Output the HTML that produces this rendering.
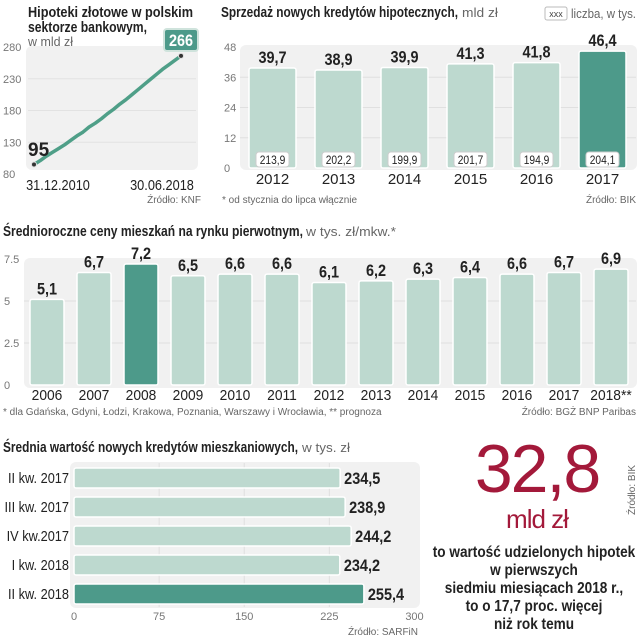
<!DOCTYPE html>
<html><head><meta charset="utf-8"><style>
body{margin:0;background:#fff;width:640px;height:640px;overflow:hidden}
svg{display:block;font-family:"Liberation Sans",sans-serif}
.t{font-weight:bold;font-size:15px;fill:#222}
.l{font-size:13px;fill:#666}
.ax{font-size:11px;fill:#777}
.v{font-weight:bold;font-size:17px;fill:#222}
.yr{font-size:15px;fill:#222}
.src{font-size:10px;fill:#666}
</style></head><body>
<svg id="s" width="640" height="640">
<!-- Chart 1 -->
<text x="28" y="17" class="t" textLength="165" lengthAdjust="spacingAndGlyphs">Hipoteki złotowe w polskim</text>
<text x="28" y="32" class="t" textLength="119" lengthAdjust="spacingAndGlyphs">sektorze bankowym,</text>
<rect x="26" y="46" width="172" height="124" rx="6" fill="#f1f1f1"/>
<text x="28" y="46" class="l" textLength="45" lengthAdjust="spacingAndGlyphs">w mld zł</text>
<g id="c1"></g>
<text x="28" y="156" style="font-weight:bold;font-size:19px;fill:#222">95</text>
<rect x="164" y="29" width="34" height="22" rx="3" fill="#4d9a8a" stroke="#cfe3dc" stroke-width="2"/>
<text x="181" y="46" text-anchor="middle" data-c="0.85" style="font-weight:bold;font-size:17px;fill:#fff">266</text>
<text x="58" y="190" text-anchor="middle" class="yr" data-c="0.85">31.12.2010</text>
<text x="162" y="190" text-anchor="middle" class="yr" data-c="0.85">30.06.2018</text>
<text x="201" y="203" text-anchor="end" class="src">Źródło: KNF</text>

<!-- Chart 2 -->
<text x="221" y="17" class="t" textLength="237" lengthAdjust="spacingAndGlyphs">Sprzedaż nowych kredytów hipotecznych,</text>
<text x="462" y="17" class="l" textLength="36" lengthAdjust="spacingAndGlyphs">mld zł</text>
<rect x="545" y="7" width="22" height="13" rx="2" fill="#fff" stroke="#bbb"/>
<text x="556" y="17" text-anchor="middle" style="font-size:9px;fill:#444">xxx</text>
<text x="571" y="18" class="l" textLength="65" lengthAdjust="spacingAndGlyphs">liczba, w tys.</text>
<rect x="240" y="45" width="397" height="125" rx="6" fill="#f1f1f1"/>
<g id="c2"></g>
<text x="222" y="203" class="src">* od stycznia do lipca włącznie</text>
<text x="636" y="203" text-anchor="end" class="src">Źródło: BIK</text>

<!-- Chart 3 -->
<text x="3" y="236" class="t" textLength="300" lengthAdjust="spacingAndGlyphs">Średnioroczne ceny mieszkań na rynku pierwotnym,</text>
<text x="306" y="236" class="l" textLength="90" lengthAdjust="spacingAndGlyphs">w tys. zł/mkw.*</text>
<rect x="24" y="258" width="613" height="130" rx="6" fill="#f1f1f1"/>
<g id="c3"></g>
<text x="3" y="415" class="src">* dla Gdańska, Gdyni, Łodzi, Krakowa, Poznania, Warszawy i Wrocławia, ** prognoza</text>
<text x="636" y="415" text-anchor="end" class="src">Źródło: BGŻ BNP Paribas</text>

<!-- Chart 4 -->
<text x="3" y="452" class="t" textLength="295" lengthAdjust="spacingAndGlyphs">Średnia wartość nowych kredytów mieszkaniowych,</text>
<text x="302" y="452" class="l" textLength="48" lengthAdjust="spacingAndGlyphs">w tys. zł</text>
<rect x="70" y="462" width="350" height="146" rx="6" fill="#f1f1f1"/>
<g id="c4"></g>
<text x="418" y="635" text-anchor="end" class="src">Źródło: SARFiN</text>

<!-- Right text -->
<text x="537" y="492" text-anchor="middle" style="font-size:68px;fill:#a3193a;letter-spacing:-2px">32,8</text>
<text x="537" y="528" text-anchor="middle" style="font-size:26px;fill:#a3193a;letter-spacing:-1px">mld zł</text>
<g style="font-size:16px;fill:#222;font-weight:bold" text-anchor="middle">
<text x="534" y="557" data-c="0.85">to wartość udzielonych hipotek</text>
<text x="534" y="575" data-c="0.85">w pierwszych</text>
<text x="534" y="593" data-c="0.85">siedmiu miesiącach 2018 r.,</text>
<text x="534" y="611" data-c="0.85">to o 17,7 proc. więcej</text>
<text x="534" y="629" data-c="0.85">niż rok temu</text>
</g>
<text transform="translate(635,515) rotate(-90)" class="src">Źródło: BIK</text>
</svg>
<script>
const lineValues=[95,101,108,114,120,126,133,140,146,154,160,167,175,182,190,197,205,213,221,229,237,245,252,259,266];
const lineTicks=[80,130,180,230,280];
const salesYears=["2012","2013","2014","2015","2016","2017"];
const salesValues=[39.7,38.9,39.9,41.3,41.8,46.4];
const salesCounts=["213,9","202,2","199,9","201,7","194,9","204,1"];
const salesLabels=["39,7","38,9","39,9","41,3","41,8","46,4"];
const salesTicks=[0,12,24,36,48];
const priceYears=["2006","2007","2008","2009","2010","2011","2012","2013","2014","2015","2016","2017","2018**"];
const priceValues=[5.1,6.7,7.2,6.5,6.6,6.6,6.1,6.2,6.3,6.4,6.6,6.7,6.9];
const priceLabels=["5,1","6,7","7,2","6,5","6,6","6,6","6,1","6,2","6,3","6,4","6,6","6,7","6,9"];
const priceTicks=[0,2.5,5,7.5];
const priceTickLabels=["0","2.5","5","7.5"];
const loanCats=["II kw. 2017","III kw. 2017","IV kw.2017","I kw. 2018","II kw. 2018"];
const loanValues=[234.5,238.9,244.2,234.2,255.4];
const loanLabels=["234,5","238,9","244,2","234,2","255,4"];
const loanTicks=[0,75,150,225,300];

const NS="http://www.w3.org/2000/svg";
function mk(p,t,a,txt){const e=document.createElementNS(NS,t);for(const k in a)e.setAttribute(k,a[k]);if(txt!==undefined)e.textContent=txt;p.appendChild(e);return e;}
const L="#bdd9cf",D="#4d9a8a";

// chart 1
const c1=document.getElementById('c1');
const y1=v=>174-(v-80)*0.635, x1=i=>34+i*(147/(lineValues.length-1));
lineTicks.forEach(t=>{
 if(t>80&&t<280){const g=mk(c1,'line',{x1:28,x2:196,y1:y1(t),y2:y1(t),stroke:'#e2e2e2'});
 
 }
 const e=mk(c1,'text',{x:3,y:y1(t)+4,class:'ax'},t);
 
 
});
const pl=mk(c1,'polyline',{points:lineValues.map((v,i)=>x1(i)+','+y1(v)).join(' '),fill:'none',stroke:'#4f9f88','stroke-width':3.5,'stroke-linejoin':'round'});


[0,lineValues.length-1].forEach(i=>{const d=mk(c1,'circle',{cx:x1(i),cy:y1(lineValues[i]),r:2.5,fill:'#333',stroke:'#ddd'});
 
 });

// chart 2
const c2=document.getElementById('c2');
const y2=v=>168-v*2.52;
salesTicks.forEach(t=>{
 if(t>0&&t<48){const g=mk(c2,'line',{x1:240,x2:636,y1:y2(t),y2:y2(t),stroke:'#e0e0e0'});
 
 }
 const e=mk(c2,'text',{x:224,y:y2(t)+4,class:'ax'},t);
 
 
});
salesValues.forEach((v,i)=>{
 const x=249+i*66,last=i===salesValues.length-1;
 const b=mk(c2,'rect',{x:x,y:y2(v),width:47,height:y2(0)-y2(v),rx:2,fill:last?D:L,stroke:'#fff','stroke-width':1.5});
 
 
 const t=mk(c2,'text',{x:x+23.5,y:y2(v)-5,class:'v','text-anchor':'middle','data-c':'0.85'},salesLabels[i]);
 
 
 const bx=mk(c2,'rect',{x:x+7,y:152,width:33,height:15,rx:3,fill:'#fff',stroke:'#ccc'});
 
 
 const ct=mk(c2,'text',{x:x+23.5,y:164,'text-anchor':'middle','data-c':'0.85',style:'font-size:12px;fill:#222'},salesCounts[i]);
 
 
 const yr=mk(c2,'text',{x:x+23.5,y:184,class:'yr','text-anchor':'middle'},salesYears[i]);
 
 
});

// chart 3
const c3=document.getElementById('c3');
const y3=v=>385-v*16.8;
priceTicks.forEach((t,k)=>{
 if(t>0&&t<7.5){const g=mk(c3,'line',{x1:24,x2:636,y1:y3(t),y2:y3(t),stroke:'#e0e0e0'});
 
 }
 const e=mk(c3,'text',{x:4,y:y3(t)+4,class:'ax'},priceTickLabels[k]);
 
 
});
priceValues.forEach((v,i)=>{
 const x=30+i*47,hi=priceYears[i]==="2008";
 const b=mk(c3,'rect',{x:x,y:y3(v),width:34,height:y3(0)-y3(v),rx:2,fill:hi?D:L,stroke:'#fff','stroke-width':1.5});
 
 
 const t=mk(c3,'text',{x:x+17,y:y3(v)-5,class:'v','text-anchor':'middle','data-c':'0.85'},priceLabels[i]);
 
 
 const yr=mk(c3,'text',{x:x+17,y:400,class:'yr','text-anchor':'middle','data-c':'0.92'},priceYears[i]);
 
 
});

// chart 4
const c4=document.getElementById('c4');
const x4=v=>74+v*1.135;
loanTicks.forEach(t=>{
 if(t>0&&t<300){const g=mk(c4,'line',{x1:x4(t),x2:x4(t),y1:463,y2:607,stroke:'#e0e0e0'});
 
 }
 const e=mk(c4,'text',{x:x4(t),y:620,class:'ax','text-anchor':'middle'},t);
 
 
});
loanValues.forEach((v,i)=>{
 const yc=478+i*29,last=i===loanValues.length-1;
 const b=mk(c4,'rect',{x:74,y:yc-10,width:x4(v)-74,height:20,rx:2,fill:last?D:L,stroke:'#fff','stroke-width':1.5});
 
 
 const t=mk(c4,'text',{x:x4(v)+4,y:yc+6,class:'v','data-c':'0.85'},loanLabels[i]);
 
 
 const c=mk(c4,'text',{x:69,y:yc+5,class:'yr','text-anchor':'end','data-c':'0.85'},loanCats[i]);
 
 
});

// condense text (no narrow font available)
document.querySelectorAll('[data-c]').forEach(e=>{
 const f=parseFloat(e.getAttribute('data-c'));
 const w=e.getComputedTextLength();
 e.setAttribute('textLength',(w*f).toFixed(1));
 e.setAttribute('lengthAdjust','spacingAndGlyphs');
});
</script>
</body></html>
